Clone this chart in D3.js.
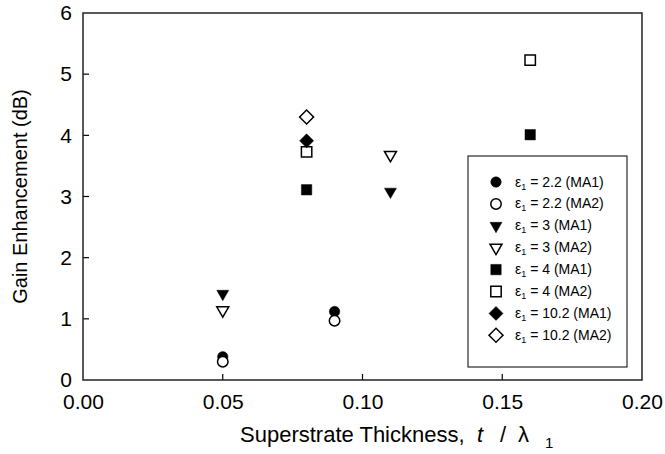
<!DOCTYPE html>
<html>
<head>
<meta charset="utf-8">
<script src="https://cdn.jsdelivr.net/npm/d3@7"></script>
<style>
  body { margin: 0; background: #fff; }
  svg { display: block; font-family: Arial, "Liberation Sans", sans-serif; }
</style>
</head>
<body>
<div class="graph-container"></div>
<script>
// tick values
const xTicks = [0, 0.05, 0.10, 0.15, 0.20];
const yTicks = [0, 1, 2, 3, 4, 5, 6];

// series (x = t / lambda1, y = gain enhancement in dB)
const seriesEps = ['2.2', '2.2', '3', '3', '4', '4', '10.2', '10.2'];
const seriesAnt = ['MA1', 'MA2', 'MA1', 'MA2', 'MA1', 'MA2', 'MA1', 'MA2'];
const xEps22 = [0.05, 0.09];
const yEps22MA1 = [0.38, 1.12];
const yEps22MA2 = [0.30, 0.97];
const xEps3 = [0.05, 0.11];
const yEps3MA1 = [1.41, 3.08];
const yEps3MA2 = [1.14, 3.68];
const xEps4 = [0.08, 0.16];
const yEps4MA1 = [3.11, 4.01];
const yEps4MA2 = [3.73, 5.23];
const xEps102 = [0.08];
const yEps102MA1 = [3.91];
const yEps102MA2 = [4.30];

const seriesX = [xEps22, xEps22, xEps3, xEps3, xEps4, xEps4, xEps102, xEps102];
const seriesY = [yEps22MA1, yEps22MA2, yEps3MA1, yEps3MA2, yEps4MA1, yEps4MA2, yEps102MA1, yEps102MA2];

// svg parameters
const w = 665;
const h = 454;
const plotL = 83;
const plotR = 642;
const plotT = 13;
const plotB = 380;

const graph = d3.select('.graph-container')
  .append('svg')
  .attr('width', w)
  .attr('height', h);

const xScale = d3.scaleLinear([0, 0.2], [plotL, plotR]);
const yScale = d3.scaleLinear([0, 6], [plotB, plotT]);

// marker shapes: circle, down triangle, square, diamond
const shapes = [
  { type: d3.symbolCircle, size: 86, rot: 0 },
  { type: d3.symbolTriangle, size: 62, rot: 180 },
  { type: d3.symbolSquare, size: 108, rot: 0 },
  { type: d3.symbolSquare, size: 98, rot: 45 },
];

function marker(sel, i) {
  const s = shapes[Math.floor(i / 2)];
  const filled = i % 2 === 0;
  sel.attr('d', d3.symbol().type(s.type).size(s.size)())
    .attr('fill', filled ? '#000' : '#fff')
    .attr('stroke', '#000')
    .attr('stroke-width', filled ? 0.5 : 1.5);
  return s.rot;
}

// axes
const xAxis = d3.axisBottom(xScale).tickValues(xTicks)
  .tickSize(0).tickPadding(14).tickFormat(d3.format('.2f'));
const yAxis = d3.axisLeft(yScale).tickValues(yTicks)
  .tickSize(0).tickPadding(11).tickFormat(d3.format('d'));

graph.append('g').attr('id', 'x-axis')
  .attr('transform', `translate(0, ${plotB})`)
  .call(xAxis)
  .call((g) => g.select('.domain').remove())
  .selectAll('text')
  .attr('font-size', 21)
  .attr('font-family', 'Arial, "Liberation Sans", sans-serif')
  .attr('fill', '#000');

graph.append('g').attr('id', 'y-axis')
  .attr('transform', `translate(${plotL}, 0)`)
  .call(yAxis)
  .call((g) => g.select('.domain').remove())
  .selectAll('text')
  .attr('font-size', 21)
  .attr('font-family', 'Arial, "Liberation Sans", sans-serif')
  .attr('fill', '#000');

// inward ticks
graph.append('g').selectAll('line')
  .data(xTicks.slice(1, -1))
  .enter()
  .append('line')
  .attr('x1', (d) => xScale(d))
  .attr('x2', (d) => xScale(d))
  .attr('y1', plotB)
  .attr('y2', plotB - 6)
  .attr('stroke', '#000')
  .attr('stroke-width', 1.2);

graph.append('g').selectAll('line')
  .data(yTicks.slice(1, -1))
  .enter()
  .append('line')
  .attr('x1', plotL)
  .attr('x2', plotL + 6)
  .attr('y1', (d) => yScale(d))
  .attr('y2', (d) => yScale(d))
  .attr('stroke', '#000')
  .attr('stroke-width', 1.2);

// frame
graph.append('rect')
  .attr('x', plotL)
  .attr('y', plotT)
  .attr('width', plotR - plotL)
  .attr('height', plotB - plotT)
  .attr('fill', 'none')
  .attr('stroke', '#222')
  .attr('stroke-width', 1.5);

// data points
seriesX.forEach((xs, i) => {
  graph.append('g').selectAll('path')
    .data(xs)
    .enter()
    .append('path')
    .each(function (d, j) {
      const rot = marker(d3.select(this), i);
      d3.select(this).attr('transform',
        `translate(${xScale(d)}, ${yScale(seriesY[i][j])}) rotate(${rot})`);
    });
});

// axis titles (wide spacing like the original figure)
const xTitle = graph.append('text')
  .attr('y', 442)
  .attr('font-size', 22)
  .attr('fill', '#000');
xTitle.append('tspan').attr('x', 240).text('Superstrate Thickness,');
xTitle.append('tspan').attr('x', 477).attr('font-style', 'italic').text('t');
xTitle.append('tspan').attr('x', 500).text('/');
xTitle.append('tspan').attr('x', 518).text('λ');
xTitle.append('tspan').attr('x', 545).attr('font-size', 15).attr('dy', 6).text('1');

graph.append('text')
  .attr('transform', `translate(27, ${(plotT + plotB) / 2}) rotate(-90)`)
  .attr('text-anchor', 'middle')
  .attr('font-size', 20)
  .attr('fill', '#000')
  .text('Gain Enhancement (dB)');

// legend
const legend = graph.append('g').attr('id', 'legend');
legend.append('rect')
  .attr('x', 468)
  .attr('y', 156)
  .attr('width', 159)
  .attr('height', 211)
  .attr('fill', '#fff')
  .attr('stroke', '#000')
  .attr('stroke-width', 1);

seriesEps.forEach((eps, i) => {
  const y = 182 + i * 21.9;
  const m = legend.append('path');
  const rot = marker(m, i);
  m.attr('transform', `translate(496, ${y}) rotate(${rot})`);
  const t = legend.append('text')
    .attr('x', 515)
    .attr('y', y + 4.5)
    .attr('font-size', 14)
    .attr('fill', '#000');
  t.append('tspan').text('ε');
  t.append('tspan').attr('font-size', 9).attr('dy', 3).text('1');
  t.append('tspan').attr('dy', -3).text(` = ${eps} (${seriesAnt[i]})`);
});
</script>
</body>
</html>
